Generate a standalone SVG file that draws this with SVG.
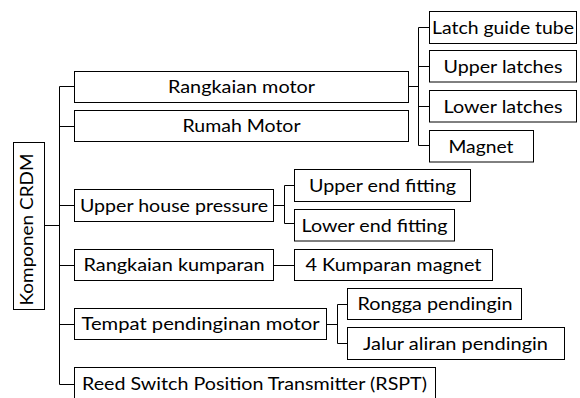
<svg xmlns="http://www.w3.org/2000/svg" width="580" height="398" viewBox="0 0 580 398">
<style>
rect{fill:#fff;stroke:#000;stroke-width:1}
.c{fill:none;stroke:#000;stroke-width:1}
text{font-family:Lato,"Open Sans","Liberation Sans",sans-serif;font-size:18px;fill:#000;text-anchor:middle}
</style>
<rect x="0" y="0" width="580" height="398" style="stroke:none"/>
<g id="connectors">
<path class="c" d="M44.5 225.5H59.5M59.5 86.5V384.5M59.5 86.5H74.5M59.5 126.5H74.5M59.5 205.5H74.5M59.5 265.5H74.5M59.5 324.5H74.5M59.5 384.5H74.5"/>
<path class="c" d="M408.5 86.5H418.5M418.5 27.5V145.5M418.5 27.5H429.5M418.5 66.5H429.5M418.5 106.5H429.5M418.5 145.5H429.5"/>
<path class="c" d="M273.5 205.5H284.5M284.5 185.5V223.5M284.5 185.5H294.5M284.5 223.5H294.5"/>
<path class="c" d="M273.5 265.5H294.5"/>
<path class="c" d="M326.5 324.5H337.5M337.5 304.5V343.5M337.5 304.5H347.5M337.5 343.5H347.5"/>
</g>
<g id="root"><rect x="13.5" y="142.5" width="31" height="167"/><text transform="translate(33,229.5) rotate(-90)" textLength="152" lengthAdjust="spacingAndGlyphs">Komponen CRDM</text></g>
<g id="rangkaian-motor"><rect x="74.5" y="71.5" width="334" height="31"/><text x="241.5" y="93" textLength="147" lengthAdjust="spacingAndGlyphs">Rangkaian motor</text></g>
<g id="rumah-motor"><rect x="74.5" y="110.5" width="334" height="31"/><text x="241.5" y="132" textLength="118" lengthAdjust="spacingAndGlyphs">Rumah Motor</text></g>
<g id="upper-house"><rect x="74.5" y="189.5" width="199" height="32"/><text x="174" y="211.5" textLength="188" lengthAdjust="spacingAndGlyphs">Upper house pressure</text></g>
<g id="rangkaian-kumparan"><rect x="74.5" y="249.5" width="199" height="31"/><text x="174" y="271" textLength="181" lengthAdjust="spacingAndGlyphs">Rangkaian kumparan</text></g>
<g id="tempat"><rect x="74.5" y="308.5" width="252" height="31"/><text x="200.5" y="330" textLength="238" lengthAdjust="spacingAndGlyphs">Tempat pendinginan motor</text></g>
<g id="rspt"><rect x="74.5" y="367.5" width="361" height="32"/><text x="254.5" y="389.5" textLength="345" lengthAdjust="spacingAndGlyphs">Reed Switch Position Transmitter (RSPT)</text></g>
<g id="latch-guide"><rect x="429.5" y="11.5" width="147" height="32"/><text x="503" y="33.5" textLength="142" lengthAdjust="spacingAndGlyphs">Latch guide tube</text></g>
<g id="upper-latches"><rect x="429.5" y="50.5" width="147" height="31.5"/><text x="503" y="72.5" textLength="119" lengthAdjust="spacingAndGlyphs">Upper latches</text></g>
<g id="lower-latches"><rect x="429.5" y="90.5" width="147" height="31.5"/><text x="503" y="112.5" textLength="119" lengthAdjust="spacingAndGlyphs">Lower latches</text></g>
<g id="magnet"><rect x="429.5" y="130.5" width="104" height="31.5"/><text x="481" y="152.5" textLength="65" lengthAdjust="spacingAndGlyphs">Magnet</text></g>
<g id="upper-end"><rect x="294.5" y="169.5" width="176" height="32"/><text x="382.5" y="191.5" textLength="147" lengthAdjust="spacingAndGlyphs">Upper end fitting</text></g>
<g id="lower-end"><rect x="294.5" y="209.5" width="160" height="31.5"/><text x="374.5" y="231.5" textLength="146" lengthAdjust="spacingAndGlyphs">Lower end fitting</text></g>
<g id="kumparan-magnet"><rect x="294.5" y="249.5" width="198" height="31"/><text x="393.5" y="271" textLength="176" lengthAdjust="spacingAndGlyphs">4 Kumparan magnet</text></g>
<g id="rongga"><rect x="347.5" y="288.5" width="174" height="31"/><text x="435" y="310" textLength="155" lengthAdjust="spacingAndGlyphs">Rongga pendingin</text></g>
<g id="jalur"><rect x="347.5" y="327.5" width="217" height="32"/><text x="455.5" y="349.5" textLength="185" lengthAdjust="spacingAndGlyphs">Jalur aliran pendingin</text></g>
</svg>
